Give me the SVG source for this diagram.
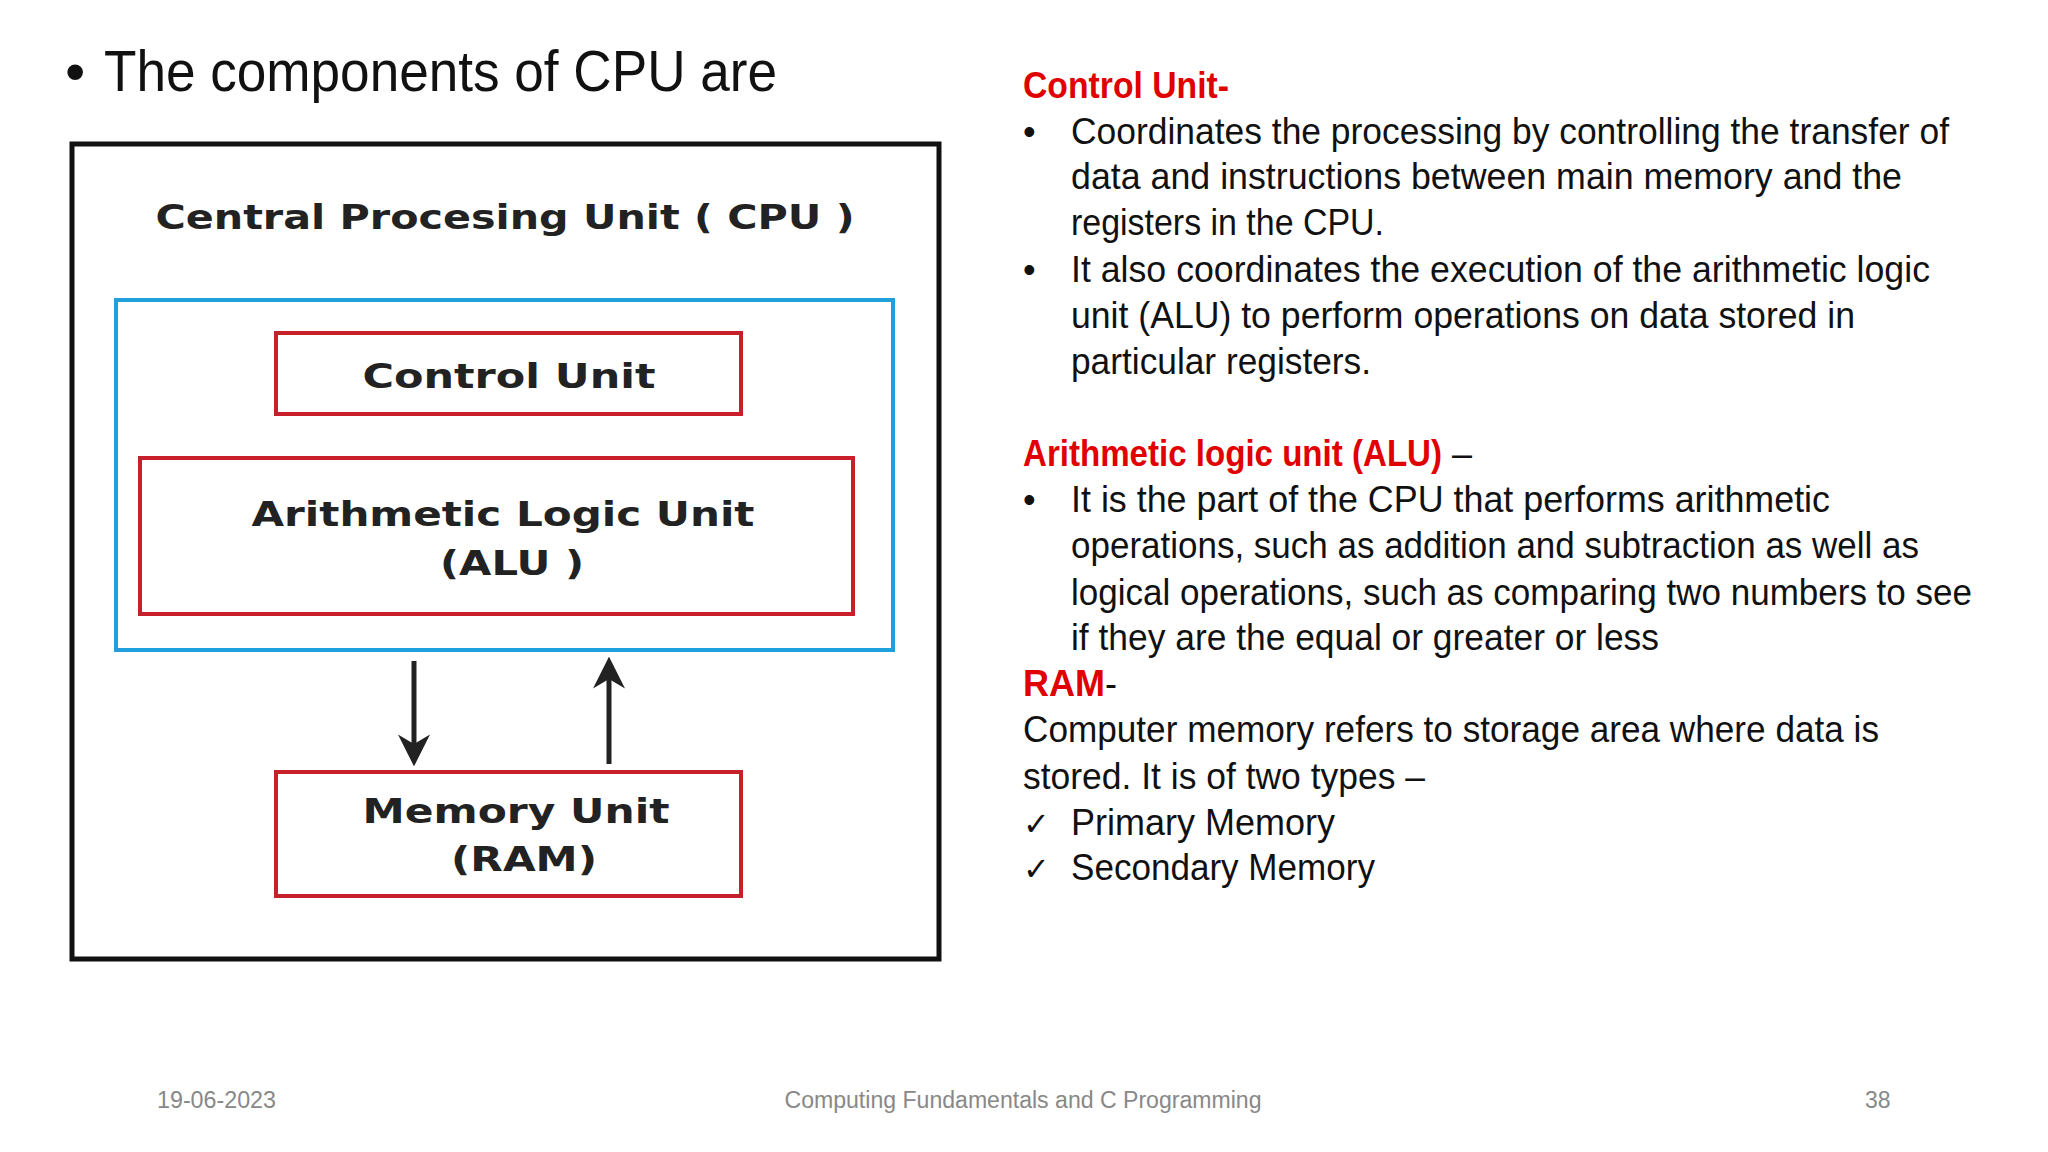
<svg xmlns="http://www.w3.org/2000/svg" width="2048" height="1152" viewBox="0 0 2048 1152">
<defs>
<style>
.t{font-family:"Liberation Sans","Open Sans",sans-serif;font-size:36px;fill:#111}
.r{fill:#e00000;font-weight:bold}
.d{font-family:"DejaVu Sans",Verdana,sans-serif;font-weight:bold;font-size:34px;fill:#222;text-anchor:middle}
.box{fill:#fff;stroke:#c8202a;stroke-width:4}
.f{font-family:"Liberation Sans","Open Sans",sans-serif;font-size:23px;fill:#888}
</style>
<marker id="ah2" viewBox="0 0 10 10" refX="8" refY="5" markerWidth="32" markerHeight="34" markerUnits="userSpaceOnUse" orient="auto">
<path d="M0,0 L10,5 L0,10 L3,5 z" fill="#222"/>
</marker>
</defs>
<rect width="2048" height="1152" fill="#fff"/>
<text class="t" x="65" y="91" style="font-size:58px">•</text>
<text class="t" x="104" y="91" style="font-size:58px" textLength="673" lengthAdjust="spacingAndGlyphs">The components of CPU are</text>

<g id="cpu">
<rect x="72" y="144" width="867" height="815" fill="#fff" stroke="#111" stroke-width="5"/>
<text class="d" x="505" y="229" textLength="699" lengthAdjust="spacingAndGlyphs">Central Procesing Unit ( CPU )</text>
</g>
<g id="cpu-core">
<rect x="116" y="300" width="777" height="350" fill="none" stroke="#1ea0dc" stroke-width="4"/>
</g>
<g id="control-unit">
<rect class="box" x="276" y="333" width="465" height="81"/>
<text class="d" x="509" y="388" textLength="293" lengthAdjust="spacingAndGlyphs">Control Unit</text>
</g>
<g id="alu">
<rect class="box" x="140" y="458" width="713" height="156"/>
<text class="d" x="503" y="526" textLength="503" lengthAdjust="spacingAndGlyphs">Arithmetic Logic Unit</text>
<text class="d" x="512" y="575" textLength="144" lengthAdjust="spacingAndGlyphs">(ALU )</text>
</g>
<g id="memory">
<rect class="box" x="276" y="772" width="465" height="124"/>
<text class="d" x="516" y="823" textLength="307" lengthAdjust="spacingAndGlyphs">Memory Unit</text>
<text class="d" x="524" y="871" textLength="146" lengthAdjust="spacingAndGlyphs">(RAM)</text>
</g>
<g id="connectors" stroke="#222" stroke-width="5" fill="none">
<line x1="414" y1="661" x2="414" y2="760" marker-end="url(#ah2)"/>
<line x1="609" y1="764" x2="609" y2="663" marker-end="url(#ah2)"/>
</g>

<g id="text">
<text class="t r" x="1023" y="98" textLength="206" lengthAdjust="spacingAndGlyphs">Control Unit-</text>
<text class="t" x="1023" y="144">•</text>
<text class="t" x="1071" y="144" textLength="878" lengthAdjust="spacingAndGlyphs">Coordinates the processing by controlling the transfer of</text>
<text class="t" x="1071" y="189" textLength="831" lengthAdjust="spacingAndGlyphs">data and instructions between main memory and the</text>
<text class="t" x="1071" y="235" textLength="313" lengthAdjust="spacingAndGlyphs">registers in the CPU.</text>
<text class="t" x="1023" y="282">•</text>
<text class="t" x="1071" y="282" textLength="859" lengthAdjust="spacingAndGlyphs">It also coordinates the execution of the arithmetic logic</text>
<text class="t" x="1071" y="328" textLength="784" lengthAdjust="spacingAndGlyphs">unit (ALU) to perform operations on data stored in</text>
<text class="t" x="1071" y="374" textLength="300" lengthAdjust="spacingAndGlyphs">particular registers.</text>
<text class="t" x="1023" y="466"><tspan class="r" textLength="419" lengthAdjust="spacingAndGlyphs">Arithmetic logic unit (ALU)</tspan> –</text>
<text class="t" x="1023" y="512">•</text>
<text class="t" x="1071" y="512" textLength="759" lengthAdjust="spacingAndGlyphs">It is the part of the CPU that performs arithmetic</text>
<text class="t" x="1071" y="558" textLength="848" lengthAdjust="spacingAndGlyphs">operations, such as addition and subtraction as well as</text>
<text class="t" x="1071" y="605" textLength="901" lengthAdjust="spacingAndGlyphs">logical operations, such as comparing two numbers to see</text>
<text class="t" x="1071" y="650" textLength="588" lengthAdjust="spacingAndGlyphs">if they are the equal or greater or less</text>
<text class="t" x="1023" y="696"><tspan class="r">RAM</tspan>-</text>
<text class="t" x="1023" y="742" textLength="856" lengthAdjust="spacingAndGlyphs">Computer memory refers to storage area where data is</text>
<text class="t" x="1023" y="789" textLength="402" lengthAdjust="spacingAndGlyphs">stored. It is of two types –</text>
<text class="t" x="1023" y="835" style="font-family:'DejaVu Sans',sans-serif;font-size:32px">✓</text>
<text class="t" x="1071" y="835" textLength="264" lengthAdjust="spacingAndGlyphs">Primary Memory</text>
<text class="t" x="1023" y="880" style="font-family:'DejaVu Sans',sans-serif;font-size:32px">✓</text>
<text class="t" x="1071" y="880" textLength="304" lengthAdjust="spacingAndGlyphs">Secondary Memory</text>
</g>
<g id="footer">
<text class="f" x="157" y="1108" textLength="119" lengthAdjust="spacingAndGlyphs">19-06-2023</text>
<text class="f" x="1023" y="1108" text-anchor="middle" textLength="477" lengthAdjust="spacingAndGlyphs">Computing Fundamentals and C Programming</text>
<text class="f" x="1865" y="1108">38</text>
</g>
</svg>
